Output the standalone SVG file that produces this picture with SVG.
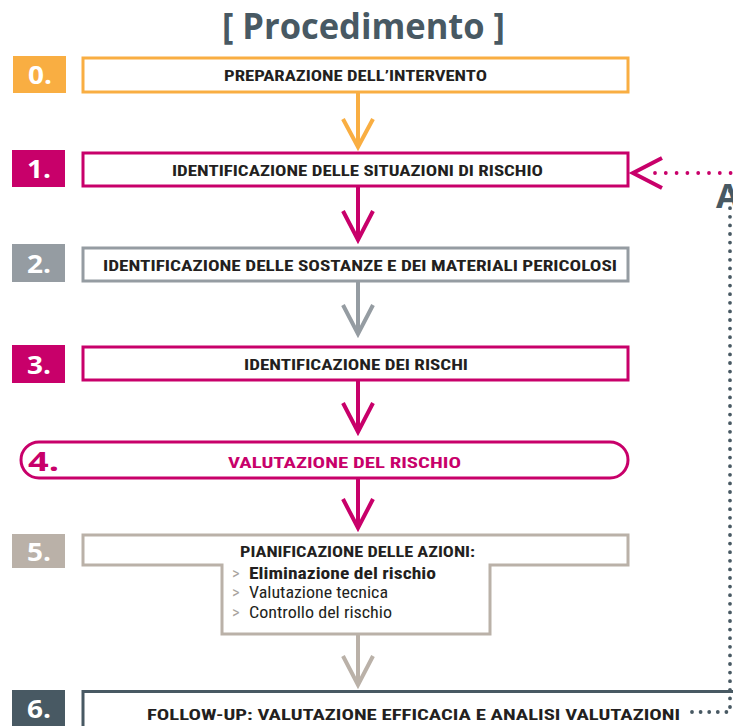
<svg xmlns="http://www.w3.org/2000/svg" width="733" height="726" viewBox="0 0 733 726">
<style>
.t{font-family:"Liberation Sans Narrow","Roboto Condensed","Open Sans","Liberation Sans",sans-serif;font-stretch:condensed;font-weight:bold;font-size:15px;fill:#231f20}
.n{font-family:"Open Sans","Liberation Sans",sans-serif;font-weight:bold;font-size:25px;fill:#fff}
.l{font-family:"Liberation Sans Narrow","Roboto Condensed","Open Sans","Liberation Sans",sans-serif;font-stretch:condensed;font-size:16.5px;fill:#231f20}
.g{fill:#a8a39e;font-weight:normal}
.box{fill:#fff;stroke-width:3}
.ar{fill:none;stroke-width:4;stroke-linejoin:miter;stroke-linecap:butt}
.or{stroke:#f9ae42}.mg{stroke:#c8006a}.gr{stroke:#959ca2}.bg{stroke:#bab1a8}.sl{stroke:#485963}
</style>
<text x="363.5" y="39" text-anchor="middle" font-family="Open Sans, Liberation Sans, sans-serif" font-weight="bold" font-size="35" fill="#485963" textLength="283" lengthAdjust="spacingAndGlyphs">[ Procedimento ]</text>

<g id="node0">
<rect x="13" y="56" width="53" height="37" fill="#f9ae42"/>
<text class="n" x="28" y="84" textLength="24" lengthAdjust="spacingAndGlyphs">0.</text>
<rect class="box or" x="83" y="58" width="545" height="34"/>
<text class="t" x="355.5" y="80.5" text-anchor="middle" textLength="263" lengthAdjust="spacingAndGlyphs">PREPARAZIONE DELL’INTERVENTO</text>
</g>

<g id="node1">
<rect x="12" y="150" width="53" height="37" fill="#c8006a"/>
<text class="n" x="27" y="178" textLength="24" lengthAdjust="spacingAndGlyphs">1.</text>
<rect class="box mg" x="83" y="153" width="545" height="33"/>
<text class="t" x="357.5" y="175.5" text-anchor="middle" textLength="371" lengthAdjust="spacingAndGlyphs">IDENTIFICAZIONE DELLE SITUAZIONI DI RISCHIO</text>
</g>

<g id="node2">
<rect x="12" y="244" width="53" height="38" fill="#959ca2"/>
<text class="n" x="27" y="273" textLength="24" lengthAdjust="spacingAndGlyphs">2.</text>
<rect class="box gr" x="83" y="248" width="545" height="33"/>
<text class="t" x="360" y="270.5" text-anchor="middle" textLength="514" lengthAdjust="spacingAndGlyphs">IDENTIFICAZIONE DELLE SOSTANZE E DEI MATERIALI PERICOLOSI</text>
</g>

<g id="node3">
<rect x="12" y="345" width="53" height="38" fill="#c8006a"/>
<text class="n" x="27" y="374" textLength="24" lengthAdjust="spacingAndGlyphs">3.</text>
<rect class="box mg" x="83" y="347" width="545" height="33"/>
<text class="t" x="356" y="369.5" text-anchor="middle" textLength="224" lengthAdjust="spacingAndGlyphs">IDENTIFICAZIONE DEI RISCHI</text>
</g>

<g id="node4">
<rect class="box mg" x="21" y="442" width="607" height="36" rx="18" ry="18"/>
<text x="28" y="471" font-family="Open Sans, Liberation Sans, sans-serif" font-weight="bold" font-size="27" fill="#c8006a" textLength="31" lengthAdjust="spacingAndGlyphs">4.</text>
<text class="t" x="344.5" y="467.5" text-anchor="middle" style="fill:#c8006a" textLength="233" lengthAdjust="spacingAndGlyphs">VALUTAZIONE DEL RISCHIO</text>
</g>

<g id="node5">
<rect x="12" y="534" width="53" height="34" fill="#bab1a8"/>
<text class="n" x="27" y="561" textLength="24" lengthAdjust="spacingAndGlyphs">5.</text>
<path class="box bg" d="M83,535 H628 V565 H490 V634 H222 V565 H83 Z"/>
<text class="t" x="357.5" y="556.5" text-anchor="middle" textLength="235" lengthAdjust="spacingAndGlyphs">PIANIFICAZIONE DELLE AZIONI:</text>
<text class="l g" x="232" y="579" font-size="18">&gt;</text>
<text class="l" x="249" y="579" font-weight="bold" textLength="187" lengthAdjust="spacingAndGlyphs">Eliminazione del rischio</text>
<text class="l g" x="232" y="598" font-size="18">&gt;</text>
<text class="l" x="249" y="598" textLength="139" lengthAdjust="spacingAndGlyphs">Valutazione tecnica</text>
<text class="l g" x="232" y="618" font-size="18">&gt;</text>
<text class="l" x="249" y="618" textLength="143" lengthAdjust="spacingAndGlyphs">Controllo del rischio</text>
</g>

<g id="node6">
<rect x="12" y="690" width="53" height="36" fill="#485963"/>
<text class="n" x="27" y="718" textLength="24" lengthAdjust="spacingAndGlyphs">6.</text>
<path fill="none" stroke="#485963" stroke-width="3" d="M83,726 V691.5 H733"/>
<text class="t" x="413.5" y="719.5" text-anchor="middle" textLength="533" lengthAdjust="spacingAndGlyphs">FOLLOW-UP: VALUTAZIONE EFFICACIA E ANALISI VALUTAZIONI</text>
</g>

<text x="716" y="208" font-family="Open Sans, Liberation Sans, sans-serif" font-weight="bold" font-size="34" fill="#485963">A</text>

<g id="connectors">
<path class="ar or" d="M358,93 V147 M343,119 L358,147 L373,119"/>
<path class="ar mg" d="M358,187 V240 M343,211 L358,240 L373,211"/>
<path class="ar gr" d="M358,282 V334 M343,305 L358,334 L373,305"/>
<path class="ar mg" d="M358,380 V432 M343,403 L358,432 L373,403"/>
<path class="ar mg" d="M358,478 V528 M343,499 L358,528 L373,499"/>
<path class="ar bg" d="M358,635 V685 M343,656 L358,685 L373,656"/>
<path fill="none" stroke="#485963" stroke-width="3.8" stroke-linecap="round" stroke-dasharray="0 8.6" d="M692,712 H730 V184"/>
<path fill="none" stroke="#c8006a" stroke-width="3.8" stroke-linecap="round" stroke-dasharray="0 10.8" d="M655,173 H740"/>
<path class="ar mg" d="M662,158 L633,173 L662,188"/>
</g>
</svg>
